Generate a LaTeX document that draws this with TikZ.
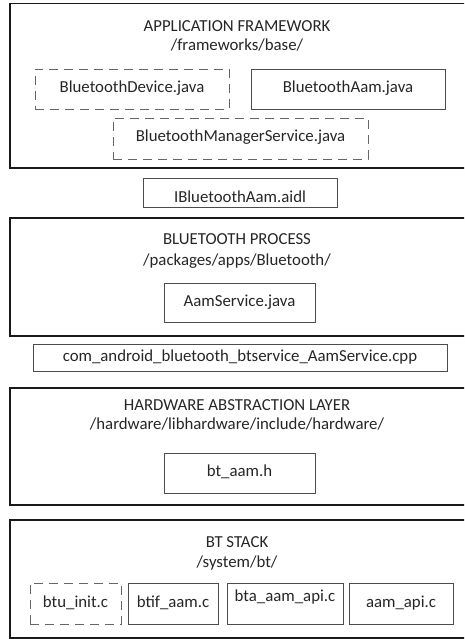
\documentclass[tikz,border=0pt]{standalone}
\usepackage{fontspec}
\setmainfont{Carlito}
\begin{document}
\begin{tikzpicture}[x=1pt,y=1pt,
  lbl/.style={font=\fontsize{16.8}{20}\selectfont, inner sep=0pt, anchor=base, text=black!85},
  layerbox/.style={draw=black!90, line width=1.4pt},
  filebox/.style={draw=black!70, line width=0.9pt, inner sep=0pt, font=\fontsize{16.8}{20}\selectfont, text=black!85, text height=0.7em, text depth=0pt},
  dashbox/.style={filebox, draw=black!60, dash pattern=on 9pt off 6pt}
]
\useasboundingbox (0,0) rectangle (464,-639);
\clip (0,0) rectangle (464,-639);
\fill[white] (0,0) rectangle (464,-639);

% Application framework
\draw[layerbox] (10,-3.5) rectangle (472,-168);
\node[lbl] (t1) at (237,-32) {APPLICATION FRAMEWORK};
\node[lbl] (p1) at (237,-51) {/frameworks/base/};
\node[dashbox, minimum width=194pt, minimum height=40pt] (bd) at (132,-89) {BluetoothDevice.java};
\node[filebox, minimum width=194pt, minimum height=40pt] (ba) at (348,-89) {BluetoothAam.java};
\node[dashbox, minimum width=255pt, minimum height=41pt] (bms) at (240.5,-138.5) {BluetoothManagerService.java};

% aidl
\node[filebox, minimum width=194pt, minimum height=29pt] (aidl) at (240,-192.5) {};
\node[lbl] (aidlt) at (240,-202) {IBluetoothAam.aidl};

% Bluetooth process
\draw[layerbox] (10,-218) rectangle (472,-336);
\node[lbl] (t2) at (237,-244) {BLUETOOTH PROCESS};
\node[lbl] (p2) at (237,-265) {/packages/apps/Bluetooth/};
\node[filebox, minimum width=151pt, minimum height=39pt] (as) at (239.5,-302.5) {AamService.java};

% JNI
\node[filebox, minimum width=414pt, minimum height=27pt] (jni) at (240,-357.5) {com\_android\_bluetooth\_btservice\_AamService.cpp};

% HAL
\draw[layerbox] (10,-388) rectangle (472,-505);
\node[lbl] (t3) at (237,-410) {HARDWARE ABSTRACTION LAYER};
\node[lbl] (p3) at (237,-429) {/hardware/libhardware/include/hardware/};
\node[filebox, minimum width=151pt, minimum height=40pt] (bth) at (239.5,-473) {bt\_aam.h};

% BT stack
\draw[layerbox] (10,-520) rectangle (472,-637.8);
\node[lbl] (t4) at (237,-547) {BT STACK};
\node[lbl] (p4) at (237,-567) {/system/bt/};
\node[dashbox, minimum width=91pt, minimum height=41pt] (btu) at (75.5,-603.5) {btu\_init.c};
\node[filebox, minimum width=90pt, minimum height=41pt] (btif) at (173,-603.5) {btif\_aam.c};
\node[filebox, minimum width=116pt, minimum height=41pt] (bta) at (285,-603.5) {};
\node[lbl] (btat) at (285,-601) {bta\_aam\_api.c};
\node[filebox, minimum width=104pt, minimum height=41pt] (aam) at (401,-603.5) {aam\_api.c};
\end{tikzpicture}
\end{document}
